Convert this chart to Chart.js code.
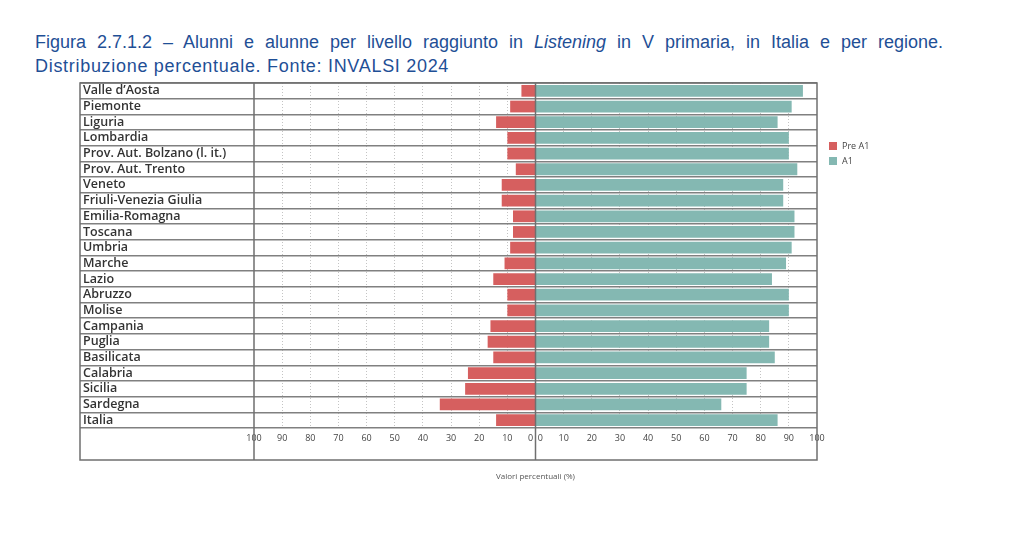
<!DOCTYPE html>
<html lang="it">
<head>
<meta charset="utf-8">
<title>Figura 2.7.1.2 – Listening V primaria</title>
<script src="https://cdn.jsdelivr.net/npm/chart.js@4/dist/chart.umd.min.js"></script>
<style>
  html, body { margin: 0; padding: 0; background: #fff; }
  #wrap { position: relative; width: 1024px; height: 539px; overflow: hidden; }
  #chart { position: absolute; left: 0; top: 0; }
  .title { position: absolute; left: 35px; top: 30px; width: 908px;
           font-family: 'Liberation Sans', Arial, sans-serif; font-size: 18px;
           line-height: 24px; color: #1f4f96; }
  .title .l1 { text-align: justify; text-align-last: justify; }
  .title .l2 { letter-spacing: 0.7px; }
  .legend { position: absolute; left: 829px; top: 138px;
            font-family: 'Open Sans', sans-serif; font-size: 9px; color: #444; }
  .legend div { height: 15px; display: flex; align-items: center; }
  .legend span { width: 8px; height: 8px; margin-right: 5px; display: inline-block; }
</style>
</head>
<body>
<div id="wrap">
  <div class="title">
    <div class="l1">Figura 2.7.1.2 – Alunni e alunne per livello raggiunto in <i>Listening</i> in V primaria, in Italia e per regione.</div>
    <div class="l2">Distribuzione percentuale. Fonte: INVALSI 2024</div>
  </div>
  <canvas id="chart" width="1024" height="539"></canvas>
  <div class="legend" id="legend"></div>
</div>
<script>
// Categories and values
const regioni = [
  'Valle d\u2019Aosta', 'Piemonte', 'Liguria', 'Lombardia',
  'Prov. Aut. Bolzano (l. it.)', 'Prov. Aut. Trento', 'Veneto',
  'Friuli-Venezia Giulia', 'Emilia-Romagna', 'Toscana', 'Umbria',
  'Marche', 'Lazio', 'Abruzzo', 'Molise', 'Campania', 'Puglia',
  'Basilicata', 'Calabria', 'Sicilia', 'Sardegna', 'Italia'
];
const preA1 = [5, 9, 14, 10, 10, 7, 12, 12, 8, 8, 9, 11, 15, 10, 10, 16, 17, 15, 24, 25, 34, 14];
const a1    = [95, 91, 86, 90, 90, 93, 88, 88, 92, 92, 91, 89, 84, 90, 90, 83, 83, 85, 75, 75, 66, 86];
const seriesNames = ['Pre A1', 'A1'];
const seriesColors = ['#d65f5f', '#84b8b2'];

Chart.defaults.font.family = "'Open Sans', sans-serif";

// frame of the table-like chart: outer box, label column and zero line
const tableFrame = {
  id: 'tableFrame',
  afterDraw(chart) {
    const { ctx, chartArea: a, scales: { x } } = chart;
    const left = 80;
    const bottom = a.bottom + 32;
    const zero = x.getPixelForValue(0);
    ctx.save();
    ctx.strokeStyle = '#6f6f6f';
    ctx.lineWidth = 1.5;
    ctx.strokeRect(left, a.top, a.right - left, bottom - a.top);
    ctx.beginPath();
    ctx.moveTo(a.left, a.top); ctx.lineTo(a.left, bottom);
    ctx.moveTo(zero, a.top); ctx.lineTo(zero, bottom);
    ctx.stroke();
    ctx.restore();
  }
};

new Chart(document.getElementById('chart'), {
  type: 'bar',
  data: {
    labels: regioni,
    datasets: [
      { label: seriesNames[0], data: preA1.map(v => -v), backgroundColor: seriesColors[0] },
      { label: seriesNames[1], data: a1, backgroundColor: seriesColors[1] }
    ]
  },
  options: {
    responsive: false,
    animation: false,
    indexAxis: 'y',
    barPercentage: 0.75,
    categoryPercentage: 1,
    layout: { padding: { left: 83, right: 207, top: 83, bottom: 55 } },
    plugins: { legend: { display: false }, tooltip: { enabled: false } },
    scales: {
      x: {
        stacked: true,
        min: -100, max: 100,
        ticks: {
          stepSize: 10, autoSkip: false, maxRotation: 0, padding: 5,
          color: '#444', font: { size: 9 },
          callback: v => v === 0 ? '0  0' : Math.abs(v)
        },
        grid: {
          drawTicks: false,
          color: c => (c.tick && Math.abs(c.tick.value) % 100 === 0) ? 'rgba(0,0,0,0)' : '#c4c4c4'
        },
        border: { display: false, dash: [1, 2] },
        title: { display: true, text: 'Valori percentuali (%)', color: '#555',
                 font: { size: 8 }, padding: { top: 0, bottom: 2 } },
        afterFit: s => { s.height = 56; }
      },
      y: {
        stacked: true,
        ticks: { crossAlign: 'far', autoSkip: false, color: '#333',
                 font: { size: 12.5, weight: '600' } },
        grid: { color: '#808080', lineWidth: 1.5, tickLength: 174 },
        border: { display: false },
        afterFit: s => { s.width = 171; }
      }
    }
  },
  plugins: [tableFrame]
});

document.getElementById('legend').innerHTML = seriesNames.map((n, i) =>
  '<div><span style="background:' + seriesColors[i] + '"></span>' + n + '</div>').join('');
</script>
</body>
</html>
